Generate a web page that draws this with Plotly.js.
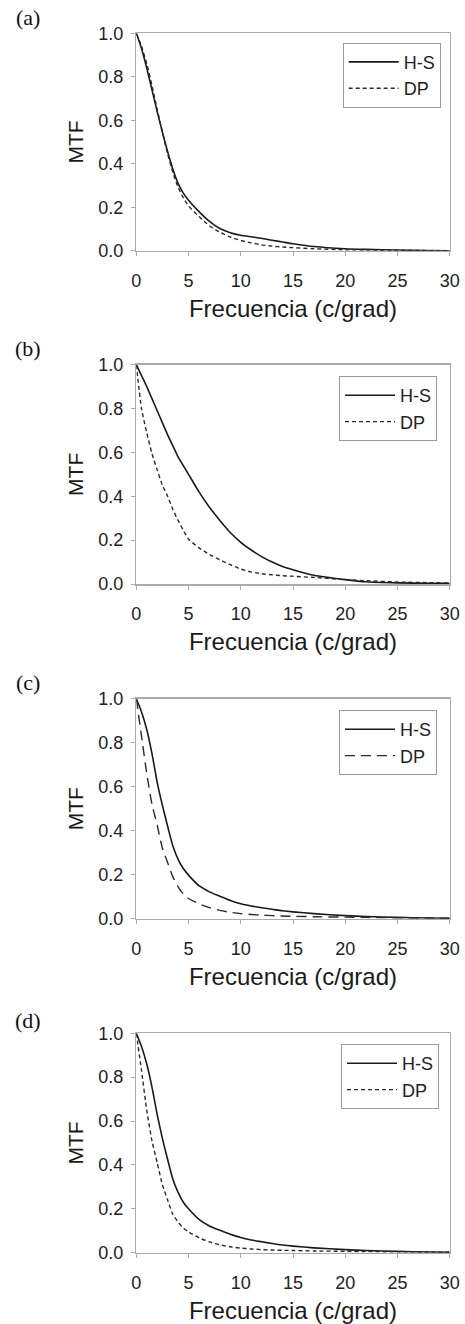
<!DOCTYPE html>
<html>
<head>
<meta charset="utf-8">
<script src="https://cdn.plot.ly/plotly-3.0.1.min.js"></script>
<style>
  html, body { margin: 0; padding: 0; background: #fff; }
  #chart { width: 465px; height: 1324px; }
</style>
</head>
<body>
<div id="chart"></div>
<script>
// ---- Data ----
const freq = [0, 0.5, 1, 1.5, 2, 2.5, 3, 3.5, 4, 4.5, 5, 6, 7, 8, 9, 10, 11, 12, 13, 14, 15, 17, 20, 22, 25, 28, 30];

const hsA = [1.0, 0.93, 0.84, 0.74, 0.64, 0.545, 0.455, 0.375, 0.31, 0.265, 0.232, 0.18, 0.135, 0.102, 0.083, 0.071, 0.064, 0.057, 0.048, 0.040, 0.032, 0.019, 0.009, 0.006, 0.003, 0.001, 0.0];
const dpA = [1.0, 0.94, 0.86, 0.76, 0.65, 0.545, 0.445, 0.36, 0.292, 0.243, 0.206, 0.157, 0.115, 0.085, 0.063, 0.047, 0.036, 0.027, 0.021, 0.017, 0.014, 0.009, 0.004, 0.003, 0.001, 0.0005, 0.0];

const hsB = [1.0, 0.95, 0.90, 0.845, 0.79, 0.735, 0.68, 0.63, 0.58, 0.54, 0.50, 0.42, 0.35, 0.29, 0.235, 0.19, 0.155, 0.125, 0.10, 0.08, 0.065, 0.04, 0.02, 0.01, 0.005, 0.003, 0.003];
const dpB = [1.0, 0.80, 0.69, 0.595, 0.52, 0.45, 0.40, 0.34, 0.29, 0.245, 0.205, 0.165, 0.135, 0.11, 0.088, 0.068, 0.055, 0.047, 0.042, 0.038, 0.035, 0.03, 0.02, 0.015, 0.009, 0.006, 0.005];

const hsC = [1.0, 0.94, 0.86, 0.75, 0.62, 0.515, 0.42, 0.33, 0.27, 0.228, 0.198, 0.15, 0.122, 0.102, 0.083, 0.068, 0.058, 0.050, 0.043, 0.036, 0.031, 0.023, 0.014, 0.010, 0.006, 0.003, 0.002];
const dpC = [1.0, 0.83, 0.66, 0.52, 0.425, 0.32, 0.255, 0.19, 0.145, 0.113, 0.092, 0.068, 0.050, 0.038, 0.029, 0.023, 0.019, 0.016, 0.014, 0.012, 0.011, 0.009, 0.007, 0.006, 0.004, 0.003, 0.002];

const hsD = [1.0, 0.94, 0.86, 0.755, 0.63, 0.52, 0.425, 0.335, 0.275, 0.23, 0.2, 0.152, 0.122, 0.102, 0.084, 0.069, 0.058, 0.050, 0.042, 0.035, 0.030, 0.022, 0.014, 0.010, 0.006, 0.003, 0.002];
const dpD = [1.0, 0.83, 0.65, 0.51, 0.41, 0.31, 0.24, 0.175, 0.14, 0.113, 0.095, 0.068, 0.049, 0.036, 0.027, 0.021, 0.017, 0.014, 0.012, 0.011, 0.010, 0.008, 0.006, 0.005, 0.004, 0.003, 0.002];

const seriesNames = ['H-S', 'DP'];
const panelLabels = ['(a)', '(b)', '(c)', '(d)'];
const xTicks = [0, 5, 10, 15, 20, 25, 30];
const yTicks = [0, 0.2, 0.4, 0.6, 0.8, 1.0];
const xTitle = 'Frecuencia (c/grad)';
const yTitle = 'MTF';

// ---- Layout geometry (pixels) ----
const W = 465, H = 1324;
const plotLeft = 136.3, plotRight = 449.7;
const panels = [
  { hs: hsA, dp: dpA, top: 33.3,  bottom: 250.7, legRight: 440.7, legTop: 42.7,  dash: '4px,3px' },
  { hs: hsB, dp: dpB, top: 364.7, bottom: 584.0, legRight: 437.0, legTop: 376.0, dash: '4px,3px' },
  { hs: hsC, dp: dpC, top: 698.7, bottom: 918.7, legRight: 437.0, legTop: 710.0, dash: '10px,6px' },
  { hs: hsD, dp: dpD, top: 1033.3, bottom: 1252.7, legRight: 439.0, legTop: 1044.0, dash: '4px,3px' }
];
const labelY = [17, 349, 682, 1020];

const FONT = '"Liberation Sans", Arial, sans-serif';
const SERIF = '"Liberation Serif", "Times New Roman", serif';
const AXCOL = '#ababab';

const traces = [];
const layout = {
  width: W, height: H,
  margin: { l: 0, r: 0, t: 0, b: 0 },
  paper_bgcolor: '#fff', plot_bgcolor: '#fff',
  showlegend: true,
  font: { family: FONT, color: '#222', size: 18 },
  annotations: []
};

panels.forEach((p, i) => {
  const n = i + 1;
  const xa = n === 1 ? 'x' : 'x' + n;
  const ya = n === 1 ? 'y' : 'y' + n;
  const leg = n === 1 ? 'legend' : 'legend' + n;
  traces.push({
    x: freq, y: p.hs, xaxis: xa, yaxis: ya, type: 'scatter', mode: 'lines',
    name: seriesNames[0], legend: leg,
    line: { color: '#1a1a1a', width: 1.6, shape: 'spline', smoothing: 0.6 }
  });
  traces.push({
    x: freq, y: p.dp, xaxis: xa, yaxis: ya, type: 'scatter', mode: 'lines',
    name: seriesNames[1], legend: leg,
    line: { color: '#2a2a2a', width: 1.4, dash: p.dash, shape: 'spline', smoothing: 0.6 }
  });
  const xKey = n === 1 ? 'xaxis' : 'xaxis' + n;
  const yKey = n === 1 ? 'yaxis' : 'yaxis' + n;
  layout[xKey] = {
    domain: [plotLeft / W, plotRight / W],
    anchor: ya,
    range: [0, 30], tickvals: xTicks, ticktext: xTicks.map(String),
    ticks: 'outside', ticklen: 4, tickwidth: 1, tickcolor: AXCOL,
    showline: true, linecolor: AXCOL, linewidth: 1.5, mirror: true,
    showgrid: false, zeroline: false,
    tickfont: { family: FONT, size: 18, color: '#222' },
    ticklabelstandoff: 9,
    title: { text: xTitle, font: { family: FONT, size: 24, color: '#1a1a1a' }, standoff: 10 },
    fixedrange: true
  };
  layout[yKey] = {
    domain: [1 - p.bottom / H, 1 - p.top / H],
    anchor: xa,
    range: [0, 1], tickvals: yTicks, ticktext: yTicks.map(v => v.toFixed(1)),
    ticks: 'outside', ticklen: 4, tickwidth: 1, tickcolor: AXCOL,
    showline: true, linecolor: AXCOL, linewidth: 1.5, mirror: true,
    showgrid: false, zeroline: false,
    tickfont: { family: FONT, size: 18, color: '#222' },
    ticklabelstandoff: 4,
    title: { text: yTitle, font: { family: FONT, size: 21, color: '#1a1a1a' }, standoff: 9 },
    fixedrange: true
  };
  layout[leg] = {
    x: p.legRight / W, xanchor: 'right',
    y: 1 - p.legTop / H, yanchor: 'top',
    bgcolor: '#fff', bordercolor: '#9a9a9a', borderwidth: 1,
    font: { family: FONT, size: 18, color: '#222' },
    itemwidth: 50
  };
  layout.annotations.push({
    text: panelLabels[i], xref: 'paper', yref: 'paper',
    x: 27.5 / W, y: 1 - labelY[i] / H, xanchor: 'center', yanchor: 'middle',
    showarrow: false, font: { family: SERIF, size: 22, color: '#111' }
  });
});

Plotly.newPlot('chart', traces, layout, { staticPlot: true, displayModeBar: false });
</script>
</body>
</html>
